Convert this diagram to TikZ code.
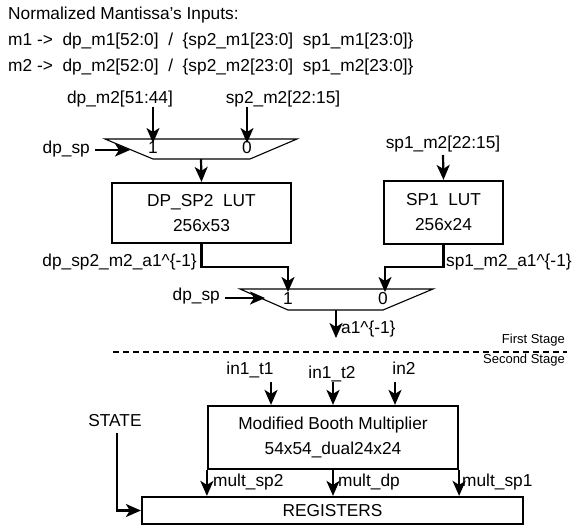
\documentclass[tikz,border=0pt]{standalone}
\usepackage{fontspec}
\setmainfont{Liberation Sans}
\usetikzlibrary{arrows.meta}
\begin{document}
\begin{tikzpicture}[x=1pt,y=-1pt,
  every node/.style={inner sep=0pt,font=\fontsize{17.3}{20}\selectfont},
  small/.style={font=\fontsize{13}{15}\selectfont},
  arr/.style={line width=2.2pt,-{Stealth[length=15pt,width=13pt,inset=4pt]}},
  box/.style={draw,line width=2.2pt},
  muxshape/.style={draw,line width=1.1pt},
  sep/.style={line width=2.2pt,dash pattern=on 6pt off 4pt}]
\useasboundingbox (0,0) rectangle (572,525);
% header
\node[anchor=base west] (h1) at (8,19) {Normalized Mantissa's Inputs:};
\node[anchor=base west] (h2) at (8,45) {m1 ->~~dp\_m1[52:0]~~/~~\{sp2\_m1[23:0]~~sp1\_m1[23:0]\}};
\node[anchor=base west] (h3) at (8,71) {m2 ->~~dp\_m2[52:0]~~/~~\{sp2\_m2[23:0]~~sp1\_m2[23:0]\}};
% mux 1
\draw[muxshape] (105,139) -- (297,139) -- (250,159) -- (153,159) -- cycle;
\coordinate (mA1) at (153,143);
\coordinate (mA0) at (247,143);
\coordinate (mAs) at (130,150);
\coordinate (mAo) at (201,159);
\node (mAl1) at (153,148) {1};
\node (mAl0) at (247,148) {0};
\node[anchor=base] (ldpm2) at (120,103) {dp\_m2[51:44]};
\node[anchor=base] (lsp2m2) at (283,103) {sp2\_m2[22:15]};
\coordinate (sA1) at (153,107);
\coordinate (sA0) at (247,107);
\draw[arr] (sA1) -- (mA1);
\draw[arr] (sA0) -- (mA0);
\node[anchor=base east] (ldpsp1) at (90,153) {dp\_sp};
\coordinate (sAs) at (95,150);
\draw[arr] (sAs) -- (mAs);
% LUTs
\node[box,minimum width=179pt,minimum height=60pt,align=center] (lut1) at (201.5,213) {DP\_SP2~~LUT\\[5pt]256x53};
\node[box,minimum width=119pt,minimum height=63pt,align=center] (lut2) at (443.5,212.5) {SP1~~LUT\\[5pt]256x24};
\draw[arr] (mAo) -- (lut1.north);
\node[anchor=base] (lsp1m2) at (443,148) {sp1\_m2[22:15]};
\coordinate (sL2) at (443,155);
\draw[arr] (sL2) -- (lut2.north);
% mux 2
\draw[muxshape] (240,289) -- (433,289) -- (383,310) -- (288,310) -- cycle;
\coordinate (mB1) at (288,292);
\coordinate (mB0) at (385,292);
\coordinate (mBs) at (265,298);
\coordinate (mBo) at (336,310);
\node (mBl1) at (288,299) {1};
\node (mBl0) at (383,299) {0};
\draw[arr] (lut1.south) |- (288,267) -- (mB1);
\draw[arr] (lut2.south) |- (385,267) -- (mB0);
\node[anchor=base east] (la1) at (197,266) {dp\_sp2\_m2\_a1\textasciicircum\{-1\}};
\node[anchor=base west] (la2) at (446,266) {sp1\_m2\_a1\textasciicircum\{-1\}};
\node[anchor=base east] (ldpsp2) at (220,300) {dp\_sp};
\coordinate (sBs) at (225,298);
\draw[arr] (sBs) -- (mBs);
\coordinate (oB) at (336,338);
\draw[arr] (mBo) -- (oB);
\node[anchor=base west] (la3) at (341,333) {a1\textasciicircum\{-1\}};
% stage separator
\coordinate (d1) at (113,352);
\coordinate (d2) at (567,352);
\draw[sep] (d1) -- (d2);
\node[small,anchor=base east] (fs) at (565,343) {First Stage};
\node[small,anchor=base east] (ss) at (565,363) {Second Stage};
% multiplier
\node[box,minimum width=250pt,minimum height=63pt,align=center] (mult) at (333,437.5) {Modified Booth Multiplier\\[5pt]54x54\_dual24x24};
\node[anchor=base] (li1) at (250,374) {in1\_t1};
\node[anchor=base] (li2) at (332,378) {in1\_t2};
\node[anchor=base] (li3) at (404,374) {in2};
\coordinate (s1) at (271,382);
\coordinate (s2) at (333,382);
\coordinate (s3) at (395,382);
\draw[arr] (s1) -- (s1 |- mult.north);
\draw[arr] (s2) -- (s2 |- mult.north);
\draw[arr] (s3) -- (s3 |- mult.north);
% registers
\node[box,minimum width=381pt,minimum height=27pt] (reg) at (332.5,510.5) {REGISTERS};
\draw[arr] (mult.south west) -- (mult.south west |- reg.north);
\draw[arr] (mult.south) -- (mult.south |- reg.north);
\draw[arr] (mult.south east) -- (mult.south east |- reg.north);
\node[anchor=base west] (lm1) at (213,486) {mult\_sp2};
\node[anchor=base west] (lm2) at (338,486) {mult\_dp};
\node[anchor=base west] (lm3) at (462,486) {mult\_sp1};
\node[anchor=base] (lstate) at (115,426) {STATE};
\coordinate (st) at (117,433);
\draw[arr] (st) |- (reg.west);
\end{tikzpicture}
\end{document}
